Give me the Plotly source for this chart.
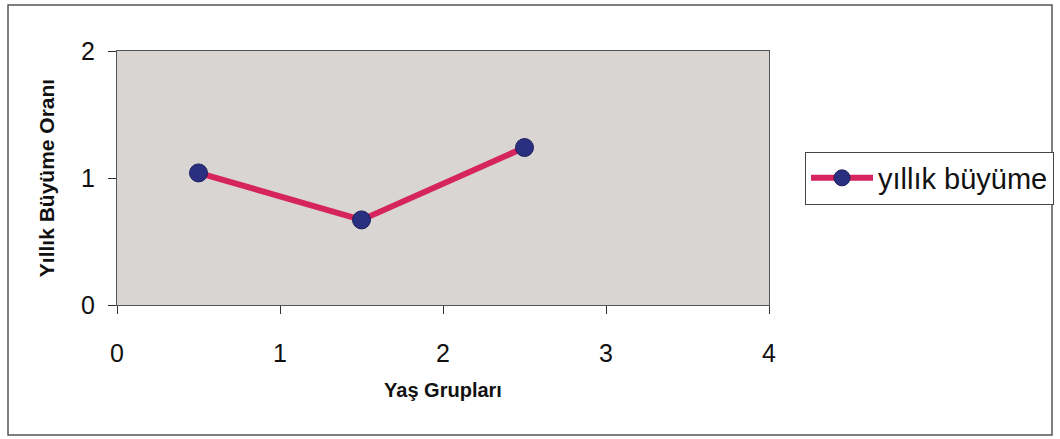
import plotly.graph_objects as go

# Age group positions and yearly growth rate
age_groups = [0.5, 1.5, 2.5]
growth_rate = [1.04, 0.67, 1.24]
series_name = "yıllık büyüme"

x_ticks = [0, 1, 2, 3, 4]
y_ticks = [0, 1, 2]

W, H = 1060, 439
L, R, T, B = 117, 291, 51, 134
pw, ph = W - L - R, H - T - B
FONT = "Liberation Sans, Arial, sans-serif"


def px_to_paper_x(px):
    return (px - L) / pw


def px_to_paper_y(py):
    return (H - B - py) / ph


fig = go.Figure()
fig.add_trace(go.Scatter(
    x=age_groups,
    y=growth_rate,
    mode="lines+markers",
    name=series_name,
    line=dict(color="#d6245e", width=6),
    marker=dict(color="#2a2f80", size=18, line=dict(color="#1c1f5e", width=1)),
))

tick_font = dict(family=FONT, size=25, color="#111")
fig.update_layout(
    width=W,
    height=H,
    margin=dict(l=L, r=R, t=T, b=B, autoexpand=False),
    paper_bgcolor="white",
    plot_bgcolor="#d8d5d2",
    showlegend=True,
    legend=dict(
        x=px_to_paper_x(805),
        y=px_to_paper_y(178),
        xanchor="left",
        yanchor="middle",
        bordercolor="#444",
        borderwidth=1,
        bgcolor="white",
        font=dict(family=FONT, size=29, color="#111"),
        itemwidth=62,
    ),
    xaxis=dict(
        range=[0, 4],
        tickvals=x_ticks,
        ticks="outside",
        ticklen=8,
        tickcolor="#333",
        ticklabelstandoff=18,
        showgrid=False,
        zeroline=False,
        showline=True,
        linecolor="#555",
        linewidth=1,
        mirror=True,
        tickfont=tick_font,
        title=dict(text="<b>Yaş Grupları</b>",
                   font=dict(family=FONT, size=20, color="#111"),
                   standoff=16),
    ),
    yaxis=dict(
        range=[0, 2],
        tickvals=y_ticks,
        ticks="outside",
        ticklen=8,
        tickcolor="#333",
        ticklabelstandoff=8,
        showgrid=False,
        zeroline=False,
        showline=True,
        linecolor="#555",
        linewidth=1,
        mirror=True,
        tickfont=tick_font,
        title=dict(text="<b>Yıllık Büyüme Oranı</b>",
                   font=dict(family=FONT, size=21, color="#111"),
                   standoff=20),
    ),
    shapes=[
        dict(
            type="rect",
            xref="paper", yref="paper",
            x0=px_to_paper_x(8), x1=px_to_paper_x(1052),
            y0=px_to_paper_y(435), y1=px_to_paper_y(5),
            line=dict(color="#555", width=1.5),
            fillcolor="rgba(0,0,0,0)",
            layer="below",
        )
    ],
)

fig.write_html("out.html")
